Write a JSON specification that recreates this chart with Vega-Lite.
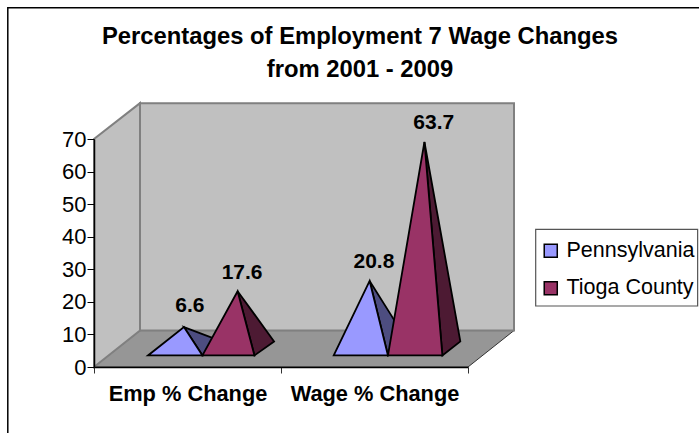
{
"$schema":"https://vega.github.io/schema/vega-lite/v6.json",
"width":374,"height":228,
"autosize":{"type":"none"},
"padding":{"left":94,"top":139,"right":231,"bottom":66},
"background":"white",
"title":{"text":["Percentages of Employment 7 Wage Changes","from 2001 - 2009"],"font":"Liberation Sans","fontSize":23.8,"fontWeight":"bold","color":"black","anchor":"middle","dx":79,"offset":-77,"lineHeight":32.5},
"config":{"view":{"stroke":null},"font":"Liberation Sans"},
"datasets":{
"frame":[{"pos":-0.461,"low":-20.5},{"pos":-0.461,"low":110.3},{"pos":3.24,"low":110.3}],
"legendBox":[{"pos":2.362,"low":18.73,"high":42.28},{"pos":3.228,"low":18.73,"high":42.28}],
"side":[{"pos":0,"low":0,"high":70},{"pos":0.246,"low":11.2,"high":81}],
"floor":[{"pos":0,"low":0,"high":0},{"pos":0.246,"low":0,"high":11.2},{"pos":2,"low":0,"high":11.2},{"pos":2.246,"low":11.2,"high":11.2}],
"wall":[{"pos":0.246,"low":11.2,"high":81},{"pos":2.246,"low":11.2,"high":81}],
"backFaces":[
{"pyramid":"A","series":"Pennsylvania","pos":0.481,"low":12.25,"high":12.25},
{"pyramid":"A","series":"Pennsylvania","pos":0.58,"low":3.55,"high":10.1},
{"pyramid":"A","series":"Pennsylvania","pos":0.684,"low":7.84,"high":7.84},
{"pyramid":"C","series":"Pennsylvania","pos":1.474,"low":26.43,"high":26.43},
{"pyramid":"C","series":"Pennsylvania","pos":1.572,"low":3.55,"high":17.46},
{"pyramid":"C","series":"Pennsylvania","pos":1.677,"low":7.84,"high":7.84},
{"pyramid":"B","series":"Tioga County","pos":0.768,"low":23.27,"high":23.27},
{"pyramid":"B","series":"Tioga County","pos":0.858,"low":3.55,"high":16.15},
{"pyramid":"B","series":"Tioga County","pos":0.963,"low":7.84,"high":7.84},
{"pyramid":"D","series":"Tioga County","pos":1.767,"low":69.08,"high":69.08},
{"pyramid":"D","series":"Tioga County","pos":1.863,"low":3.55,"high":38.46},
{"pyramid":"D","series":"Tioga County","pos":1.959,"low":7.84,"high":7.84}
],
"frontFaces":[
{"pyramid":"A","series":"Pennsylvania","pos":0.289,"low":3.55,"high":3.55},
{"pyramid":"A","series":"Pennsylvania","pos":0.481,"low":3.55,"high":12.25},
{"pyramid":"A","series":"Pennsylvania","pos":0.58,"low":3.55,"high":3.55},
{"pyramid":"B","series":"Tioga County","pos":0.58,"low":3.55,"high":3.55},
{"pyramid":"B","series":"Tioga County","pos":0.768,"low":3.55,"high":23.27},
{"pyramid":"B","series":"Tioga County","pos":0.858,"low":3.55,"high":3.55},
{"pyramid":"C","series":"Pennsylvania","pos":1.282,"low":3.55,"high":3.55},
{"pyramid":"C","series":"Pennsylvania","pos":1.474,"low":3.55,"high":26.43},
{"pyramid":"C","series":"Pennsylvania","pos":1.572,"low":3.55,"high":3.55},
{"pyramid":"D","series":"Tioga County","pos":1.572,"low":3.55,"high":3.55},
{"pyramid":"D","series":"Tioga County","pos":1.767,"low":3.55,"high":69.08},
{"pyramid":"D","series":"Tioga County","pos":1.863,"low":3.55,"high":3.55}
],
"labels":[
{"category":"Emp % Change","series":"Pennsylvania","value":6.6,"pos":0.513},
{"category":"Emp % Change","series":"Tioga County","value":17.6,"pos":0.792},
{"category":"Wage % Change","series":"Pennsylvania","value":20.8,"pos":1.497},
{"category":"Wage % Change","series":"Tioga County","value":63.7,"pos":1.817}
]
},
"encoding":{
"x":{"field":"pos","type":"quantitative","scale":{"domain":[0,2],"nice":false,"zero":false},
"axis":{"title":null,"grid":false,"values":[0,0.5,1,1.5,2],"domainColor":"black","domainWidth":1.5,"tickColor":"#333333","tickSize":6,"tickWidth":1,"tickOpacity":{"condition":{"test":"datum.value==0.5||datum.value==1.5","value":0},"value":1},"labelExpr":"datum.value==0.5?'Emp % Change':datum.value==1.5?'Wage % Change':''","labelFont":"Liberation Sans","labelFontSize":21.8,"labelFontWeight":"bold","labelColor":"black","labelPadding":10,"labelOverlap":false,"labelFlush":false,"labelBound":false,"zindex":1}},
"y":{"field":"low","type":"quantitative","scale":{"domain":[0,70],"nice":false,"zero":false},
"axis":{"title":null,"grid":false,"values":[0,10,20,30,40,50,60,70],"domainColor":"black","domainWidth":1.5,"tickColor":"black","tickSize":7,"tickWidth":1,"labelFont":"Liberation Sans","labelFontSize":22,"labelColor":"black","labelPadding":1,"labelOverlap":false,"labelBound":false,"labelFlush":false,"zindex":1}}
},
"layer":[
{"data":{"name":"frame"},"mark":{"type":"line","color":"black","strokeWidth":1.5,"clip":false}},
{"data":{"name":"legendBox"},"mark":{"type":"area","fill":"white","stroke":"#555555","strokeWidth":1.2},"encoding":{"y2":{"field":"high"}}},
{"data":{"name":"floor"},"mark":{"type":"area","fill":"#969696","stroke":"#333333","strokeWidth":1},"encoding":{"y2":{"field":"high"}}},
{"data":{"name":"side"},"mark":{"type":"area","fill":"#C0C0C0","stroke":"#808080","strokeWidth":2},"encoding":{"y2":{"field":"high"}}},
{"data":{"name":"wall"},"mark":{"type":"area","fill":"#C0C0C0","stroke":"#808080","strokeWidth":2},"encoding":{"y2":{"field":"high"}}},
{"data":{"name":"backFaces"},"transform":[{"filter":"datum.series==='Pennsylvania'"}],"mark":{"type":"area","fill":"#4D4D80","stroke":"black","strokeWidth":1.8},"encoding":{"y2":{"field":"high"},"detail":{"field":"pyramid"}}},
{"data":{"name":"backFaces"},"transform":[{"filter":"datum.series==='Tioga County'"}],"mark":{"type":"area","fill":"#4D1A33","stroke":"black","strokeWidth":1.8},"encoding":{"y2":{"field":"high"},"detail":{"field":"pyramid"}}},
{"data":{"name":"frontFaces"},"mark":{"type":"area","stroke":"black","strokeWidth":1.8},"encoding":{"y2":{"field":"high"},"detail":{"field":"pyramid"},
"fill":{"field":"series","type":"nominal","scale":{"domain":["Pennsylvania","Tioga County"],"range":["#9999FF","#993366"]},
"legend":{"title":null,"orient":"none","legendX":442,"legendY":97,"symbolType":"square","symbolSize":170,"symbolStrokeColor":"black","symbolStrokeWidth":1.5,"symbolOpacity":1,"labelFont":"Liberation Sans","labelFontSize":21.5,"labelColor":"black","labelLimit":200,"padding":4,"rowPadding":14.5,"labelOffset":5}}}},
{"data":{"name":"labels"},"mark":{"type":"text","font":"Liberation Sans","fontSize":21,"fontWeight":"bold","color":"black","dy":{"expr":"datum.value<10?-40:-37"},"baseline":"middle","align":"center"},"encoding":{"y":{"field":"value","type":"quantitative"},"text":{"field":"value","type":"quantitative","format":".1f"}}}
]
}
